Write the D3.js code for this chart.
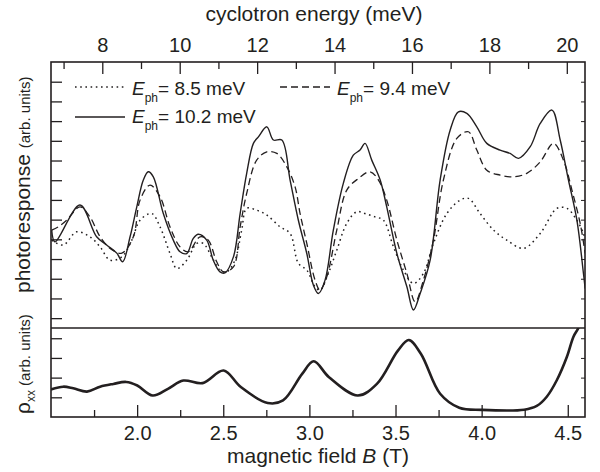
<!DOCTYPE html>
<html>
<head>
<meta charset="utf-8">
<script src="https://cdn.jsdelivr.net/npm/d3@7"></script>
<style>
  html, body { margin: 0; padding: 0; background: #fff; }
  svg { display: block; }
  text { font-family: "Liberation Sans", Arial, Helvetica, sans-serif; fill: #231f20; }
</style>
</head>
<body>
<svg id="chart" width="600" height="472"></svg>
<script>
// ---------------- data ----------------
// photoresponse, E_ph = 10.2 meV (solid)
const field102 = [1.504,1.523,1.668,1.765,1.823,1.882,1.916,1.959,1.998,2.036,2.065,2.094,2.152,2.210,2.249,2.288,2.326,2.355,2.404,2.442,2.481,2.510,2.559,2.598,2.636,2.675,2.704,2.753,2.791,2.840,2.888,2.936,2.985,3.023,3.052,3.091,3.139,3.197,3.255,3.294,3.323,3.362,3.411,3.449,3.508,3.566,3.604,3.643,3.701,3.759,3.817,3.865,3.914,3.972,4.030,4.107,4.165,4.214,4.282,4.340,4.408,4.456,4.504,4.553,4.591,4.601];
const photo102 = [4.47,3.87,5.74,4.13,3.71,3.30,2.86,4.13,5.65,7.01,7.43,7.17,5.31,3.96,3.37,3.28,4.05,4.26,3.96,2.94,2.35,2.30,3.11,5.31,7.35,8.87,9.20,9.71,9.04,9.04,7.01,4.97,3.28,1.68,1.25,1.93,4.47,6.84,8.27,8.53,8.87,8.02,7.01,5.65,3.28,1.59,0.41,1.25,2.94,7.01,9.54,10.47,10.39,9.71,8.87,8.53,8.36,8.11,8.70,9.88,10.56,9.04,7.01,4.97,2.27,1.50];
// photoresponse, E_ph = 9.4 meV (dashed)
const field94 = [1.504,1.542,1.591,1.668,1.726,1.785,1.843,1.911,1.978,2.017,2.075,2.133,2.191,2.249,2.297,2.365,2.413,2.462,2.501,2.559,2.598,2.636,2.694,2.753,2.811,2.869,2.917,2.946,2.985,3.033,3.062,3.101,3.159,3.217,3.285,3.352,3.401,3.449,3.508,3.566,3.614,3.662,3.720,3.778,3.856,3.923,3.972,4.030,4.107,4.185,4.262,4.340,4.417,4.475,4.524,4.572,4.601];
const photo94 = [4.47,4.63,4.97,5.65,5.14,4.13,3.54,3.30,4.13,5.99,6.75,6.16,4.63,3.62,3.37,4.13,3.96,2.86,2.35,2.60,4.63,6.33,8.02,8.44,8.36,7.68,6.66,5.31,3.79,1.93,1.42,2.10,4.47,6.50,7.09,7.43,7.01,5.99,3.96,2.27,0.83,1.93,3.96,7.01,9.12,9.46,8.53,7.51,7.26,7.17,7.35,7.93,8.87,8.02,6.50,4.81,3.28];
// photoresponse, E_ph = 8.5 meV (dotted)
const field85 = [1.504,1.571,1.649,1.726,1.785,1.843,1.911,1.969,2.017,2.085,2.133,2.191,2.230,2.288,2.346,2.384,2.433,2.481,2.520,2.568,2.607,2.636,2.694,2.753,2.830,2.888,2.936,2.985,3.033,3.062,3.110,3.159,3.217,3.275,3.323,3.381,3.430,3.488,3.546,3.604,3.662,3.720,3.798,3.875,3.923,3.991,4.069,4.146,4.243,4.340,4.437,4.495,4.553,4.591,4.601];
const photo85 = [3.96,3.71,4.38,4.13,3.62,2.94,3.11,3.96,4.97,5.31,4.63,3.28,2.52,2.94,3.79,3.79,3.11,2.44,2.35,2.94,4.47,5.57,5.48,5.23,4.63,4.30,2.78,2.44,1.59,1.42,2.27,3.45,4.81,5.40,5.31,5.14,4.97,3.62,2.44,1.76,2.27,3.79,5.31,5.99,6.08,5.31,4.47,3.96,3.54,4.30,5.57,5.57,4.97,4.30,3.96];
// rho_xx (lower panel)
const fieldRho = [1.500,1.571,1.629,1.709,1.785,1.862,1.936,2.001,2.090,2.179,2.268,2.380,2.502,2.602,2.758,2.847,2.958,3.025,3.114,3.281,3.392,3.514,3.577,3.648,3.759,3.870,4.003,4.247,4.320,4.378,4.437,4.495,4.533,4.562,4.580];
const rhoXX = [1.40,1.54,1.46,1.29,1.54,1.68,1.78,1.60,1.09,1.43,1.85,1.72,2.36,1.52,0.71,0.84,2.19,2.83,2.02,1.09,1.68,3.37,3.91,3.20,1.18,0.47,0.36,0.37,0.56,1.03,1.88,3.06,4.08,4.53,5.10];

const seriesNames = ["8.5 meV", "9.4 meV", "10.2 meV"];
const fieldDomain = [1.5, 4.6];
const cyclotronPerTesla = 4.45;            // meV per T
const fieldTicksMajor = [2.0, 2.5, 3.0, 3.5, 4.0, 4.5];
const fieldTicksMinor = [1.75, 2.25, 2.75, 3.25, 3.75, 4.25];
const energyTicksMajor = [8, 10, 12, 14, 16, 18, 20];
const energyTicksMinor = [7, 9, 11, 13, 15, 17, 19];
const photoDomain = [-0.5, 13];
const photoTicks = [0,1,2,3,4,5,6,7,8,9,10,11,12];
const rhoDomain = [0, 4.52];
const rhoTicks = [1, 2, 3, 4];

// ---------------- layout ----------------
const L = 51, R = 585, T = 62, MID = 328, BOT = 417;
const ink = "#231f20";
const svg = d3.select("#chart");

const x = d3.scaleLinear().domain(fieldDomain).range([L, R]);
const xTop = d3.scaleLinear().domain(fieldDomain.map(b => b * cyclotronPerTesla)).range([L, R]);
const yTop = d3.scaleLinear().domain(photoDomain).range([MID, T]);
const yBot = d3.scaleLinear().domain(rhoDomain).range([BOT, MID]);

const defs = svg.append("defs");
defs.append("clipPath").attr("id", "clipTop").append("rect")
  .attr("x", L).attr("y", T).attr("width", R - L).attr("height", MID - T);
defs.append("clipPath").attr("id", "clipBot").append("rect")
  .attr("x", L).attr("y", MID).attr("width", R - L).attr("height", BOT - MID);

function styleAxis(g, width) {
  g.select(".domain").remove();
  g.selectAll(".tick line").attr("stroke", ink).attr("stroke-width", width || 1.3);
  g.selectAll("text").style("font-size", "20px").attr("fill", ink)
    .style("font-family", '"Liberation Sans", Arial, sans-serif');
}

// bottom axis (magnetic field)
svg.append("g").attr("transform", `translate(0,${BOT})`)
  .call(d3.axisBottom(x).tickValues(fieldTicksMajor).tickSize(-12).tickPadding(9).tickFormat(d3.format(".1f")))
  .call(g => styleAxis(g));
svg.append("g").attr("transform", `translate(0,${BOT})`)
  .call(d3.axisBottom(x).tickValues(fieldTicksMinor).tickSize(-7).tickFormat(""))
  .call(g => styleAxis(g));

// top axis (cyclotron energy)
svg.append("g").attr("transform", `translate(0,${T})`)
  .call(d3.axisTop(xTop).tickValues(energyTicksMajor).tickSize(-12).tickPadding(10).tickFormat(d3.format("d")))
  .call(g => styleAxis(g));
svg.append("g").attr("transform", `translate(0,${T})`)
  .call(d3.axisTop(xTop).tickValues(energyTicksMinor).tickSize(-7).tickFormat(""))
  .call(g => styleAxis(g));

// left / right ticks
svg.append("g").attr("transform", `translate(${L},0)`)
  .call(d3.axisLeft(yTop).tickValues(photoTicks).tickSize(-11).tickFormat(""))
  .call(g => styleAxis(g));
svg.append("g").attr("transform", `translate(${L},0)`)
  .call(d3.axisLeft(yBot).tickValues(rhoTicks).tickSize(-11).tickFormat(""))
  .call(g => styleAxis(g));
svg.append("g").attr("transform", `translate(${R},0)`)
  .call(d3.axisRight(yTop).tickValues(photoTicks).tickSize(-4).tickFormat(""))
  .call(g => styleAxis(g, 1));
svg.append("g").attr("transform", `translate(${R},0)`)
  .call(d3.axisRight(yBot).tickValues(rhoTicks).tickSize(-4).tickFormat(""))
  .call(g => styleAxis(g, 1));

// frame
svg.append("rect").attr("x", L).attr("y", T).attr("width", R - L).attr("height", BOT - T)
  .attr("fill", "none").attr("stroke", ink).attr("stroke-width", 1.6);
svg.append("line").attr("x1", L).attr("x2", R).attr("y1", MID).attr("y2", MID)
  .attr("stroke", ink).attr("stroke-width", 1.6);

// curves
const lineTop = d3.line().x(d => x(d[0])).y(d => yTop(d[1])).curve(d3.curveCatmullRom.alpha(0.5));
const zip = (a, b) => a.map((v, i) => [v, b[i]]);
const gTop = svg.append("g").attr("clip-path", "url(#clipTop)");
gTop.append("path").datum(zip(field85, photo85)).attr("d", lineTop)
  .attr("fill", "none").attr("stroke", ink).attr("stroke-width", 1.5).attr("stroke-dasharray", "1.6,3.6");
gTop.append("path").datum(zip(field94, photo94)).attr("d", lineTop)
  .attr("fill", "none").attr("stroke", ink).attr("stroke-width", 1.3).attr("stroke-dasharray", "7,4");
gTop.append("path").datum(zip(field102, photo102)).attr("d", lineTop)
  .attr("fill", "none").attr("stroke", ink).attr("stroke-width", 1.4);

const lineBot = d3.line().x(d => x(d[0])).y(d => yBot(d[1])).curve(d3.curveCatmullRom.alpha(0.5));
svg.append("g").attr("clip-path", "url(#clipBot)").append("path")
  .datum(zip(fieldRho, rhoXX)).attr("d", lineBot)
  .attr("fill", "none").attr("stroke", ink).attr("stroke-width", 2.6);

// legend
const legend = [
  {name: seriesNames[0], dash: "1.6,3.6", lx: 75, ly: 87, tx: 132, ty: 95},
  {name: seriesNames[1], dash: "7,4", lx: 280, ly: 87, tx: 337, ty: 95},
  {name: seriesNames[2], dash: null, lx: 75, ly: 117, tx: 132, ty: 123}
];
legend.forEach(it => {
  svg.append("line").attr("x1", it.lx).attr("x2", it.lx + 50).attr("y1", it.ly).attr("y2", it.ly)
    .attr("stroke", ink).attr("stroke-width", 1.4).attr("stroke-dasharray", it.dash);
  const t = svg.append("text").attr("x", it.tx).attr("y", it.ty).style("font-size", "19px");
  t.append("tspan").text("E").style("font-style", "italic");
  t.append("tspan").text("ph").style("font-size", "12px").attr("dy", 7);
  t.append("tspan").text("= " + it.name).attr("dy", -7);
});

// axis titles
svg.append("text").attr("x", 314).attr("y", 21).attr("text-anchor", "middle")
  .style("font-size", "21px").text("cyclotron energy (meV)");
const bt = svg.append("text").attr("x", 318).attr("y", 463).attr("text-anchor", "middle").style("font-size", "21px");
bt.append("tspan").text("magnetic field ");
bt.append("tspan").text("B").style("font-style", "italic");
bt.append("tspan").text(" (T)");

const yl = svg.append("text").attr("transform", "translate(30,293) rotate(-90)").attr("text-anchor", "start");
yl.append("tspan").text("photoresponse ").style("font-size", "21px");
yl.append("tspan").text("(arb. units)").style("font-size", "15px");

const rl = svg.append("text").attr("transform", "translate(30,414) rotate(-90)").attr("text-anchor", "start");
rl.append("tspan").text("ρ").style("font-size", "21px");
rl.append("tspan").text("xx").style("font-size", "12px").attr("dy", 5);
rl.append("tspan").text(" (arb. units)").style("font-size", "15px").attr("dy", -5);
</script>
</body>
</html>
